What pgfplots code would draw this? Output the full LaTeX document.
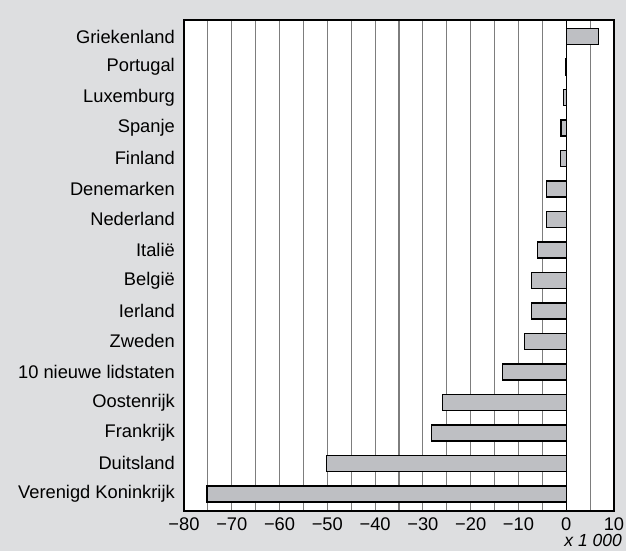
\documentclass[border=0pt]{standalone}
\usepackage{pgfplots}
\pgfplotsset{compat=1.18}
\usepackage{fontspec}
\setmainfont{Liberation Sans}
\definecolor{bg}{RGB}{221,222,224}
\definecolor{barfill}{RGB}{190,191,195}
\definecolor{gridc}{RGB}{125,125,125}
\begin{document}
\begin{tikzpicture}[x=1pt,y=1pt]
\fill[bg] (0,0) rectangle (626,551);
\begin{axis}[
  at={(184pt,40pt)}, anchor=south west,
  scale only axis, width=430pt, height=491pt,
  xmin=-80, xmax=10, ymin=-0.54, ymax=15.56,
  y dir=reverse,
  xbar, bar width=16pt, bar shift=0pt,
  xtick={-80,-70,...,10},
  xticklabels={−80,−70,−60,−50,−40,−30,−20,−10,0,10},
  minor xtick={-75,-65,...,5},
  xmajorgrids, xminorgrids,
  grid style={gridc, line width=1.2pt},
  minor grid style={gridc, line width=1.2pt},
  major tick length=0pt, minor tick length=0pt,
  ytick={0,...,15},
  yticklabels={Griekenland,Portugal,Luxemburg,Spanje,Finland,Denemarken,Nederland,Italië,België,Ierland,Zweden,10 nieuwe lidstaten,Oostenrijk,Frankrijk,Duitsland,Verenigd Koninkrijk},
  axis line style={black, line width=1.3pt},
  axis background/.style={fill=white},
  tick label style={font=\fontsize{18.3}{22}\selectfont},
  yticklabel style={anchor=east, inner sep=0pt, xshift=-9pt},
  xticklabel style={anchor=north, inner sep=0pt, yshift=-7pt},
]
\addplot[fill=barfill, draw=black, line width=1.2pt] coordinates {
(6.7,0) (-0.2,1) (-0.6,2) (-1.1,3) (-1.2,4) (-4.2,5) (-4.2,6) (-6.0,7)
(-7.2,8) (-7.3,9) (-8.7,10) (-13.3,11) (-25.9,12) (-28.2,13) (-50.1,14) (-75.2,15)};
\draw[black, line width=1.4pt] (axis cs:0,-0.54) -- (axis cs:0,15.56);
\end{axis}
\node[anchor=base east, inner sep=0pt, font=\itshape\fontsize{17.5}{20}\selectfont] at (622,4) {x 1 000};
\pgfresetboundingbox
\useasboundingbox (0,0) rectangle (626,551);
\end{tikzpicture}
\end{document}
